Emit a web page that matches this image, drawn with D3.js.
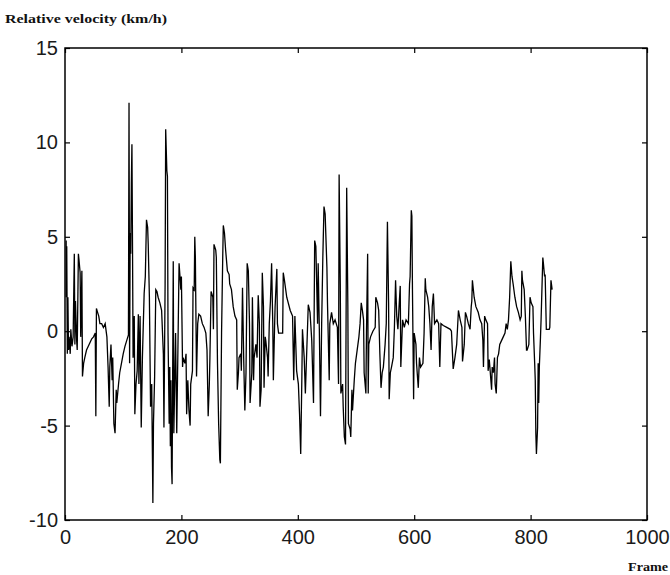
<!DOCTYPE html>
<html>
<head>
<meta charset="utf-8">
<script src="https://cdn.jsdelivr.net/npm/d3@7"></script>
<style>
  body { margin: 0; background: #fff; }
</style>
</head>
<body>
<div id="vis"></div>
<script>
// frame numbers and relative velocity (km/h)
const frames = [
  2, 2, 3, 4, 5, 6, 7, 9, 10, 12, 14, 16, 17, 18, 20, 21, 23, 24, 26, 27, 29, 30, 32, 34, 37, 40, 43, 46, 49, 52,
  53, 54, 56, 58, 60, 63, 66, 69, 72, 74, 76, 77, 79, 81, 82, 84, 86, 88, 89, 92, 94, 97, 100, 103, 106, 109,
  110, 111, 112, 113, 114, 115, 116, 117, 119, 120, 122, 124, 126, 127, 129, 131, 133, 136, 138, 140, 142, 143, 145,
  147, 149, 151, 152, 154, 156, 158, 160, 163, 166, 169, 170, 172, 173, 175, 176, 177, 179, 180, 181, 182, 183, 184,
  186, 187, 189, 190, 192, 194, 196, 198, 199, 200, 202, 203, 206, 208, 209, 211, 213, 215, 216, 219, 220, 222, 223,
  224, 226, 228, 230, 233, 236, 239, 242, 244, 246, 248, 249, 251, 254, 255, 256, 259, 260, 262, 264, 266, 267, 269,
  271, 272, 274, 276, 279, 282, 283, 286, 289, 292, 295, 296, 298, 299, 302, 303, 305, 307, 309, 311, 313, 315, 317,
  318, 321, 322, 324, 325, 328, 330, 332, 334, 335, 337, 339, 341, 342, 344, 345, 348, 349, 351, 353, 355, 357, 358,
  360, 361, 364, 365, 367, 371, 374, 375, 377, 381, 387, 391, 393, 395, 398, 401, 403, 405, 407, 408, 411, 413, 415,
  418, 421, 424, 427, 429, 431, 434, 435, 437, 439, 441, 443, 445, 447, 450, 451, 454, 455, 458, 461, 464, 468, 470,
  471, 473, 474, 477, 478, 480, 482, 484, 486, 487, 490, 491, 493, 494, 497, 499, 502, 505, 507, 509, 511, 513, 514,
  517, 518, 520, 521, 522, 525, 529, 533, 534, 537, 539, 541, 543, 545, 547, 550, 552, 554, 556, 557, 559, 561, 564,
  566, 568, 570, 572, 574, 576, 577, 580, 583, 586, 590, 592, 593, 595, 596, 597, 599, 600, 603, 604, 607, 609, 611,
  615, 617, 619, 620, 623, 625, 627, 629, 631, 633, 635, 639, 642, 644, 646, 650, 656, 662, 664, 667, 670, 673, 676,
  679, 682, 683, 686, 688, 690, 693, 696, 698, 699, 700, 703, 706, 710, 713, 716, 718, 719, 721, 723, 726, 727, 729,
  730, 733, 734, 736, 738, 739, 741, 743, 745, 747, 750, 753, 756, 758, 760, 762, 764, 766, 768, 770, 773, 776, 779,
  782, 784, 785, 786, 789, 791, 793, 794, 797, 799, 801, 804, 805, 807, 808, 809, 810, 812, 813, 814, 815, 817, 818,
  821, 822, 824, 825, 827, 829, 832, 833, 835, 837
];
const velocity = [
  4.8, 1.8, 4.5, -1.2, 1.8, -1.0, -0.3, -1.2, 0.1, -0.8, -0.3, 4.1, -0.7, 1.6, -0.5, -1.0, 4.1, 3.8, 3.1, -0.3, 3.2, -2.4, -1.7, -1.4, -1.0, -0.8, -0.6, -0.4, -0.3, -0.1,
  -4.5, 1.2, 1.0, 0.8, 0.4, 0.4, 0.2, 0.4, -0.3, -1.9, -4.0, -1.9, -0.7, -2.6, -1.4, -4.9, -5.4, -3.1, -3.8, -2.8, -2.2, -1.7, -1.2, -0.8, -0.5, -0.2,
  12.1, -1.7, 5.2, 4.1, 7.8, 9.9, 4.5, -1.4, 0.8, -4.4, -2.8, -2.1, 0.9, -2.8, 0.8, -5.1, -1.4, 2.0, 2.9, 5.9, 5.5, 4.6, 1.8,
  -4.0, -2.8, -9.1, -4.9, -2.4, 2.2, 2.1, 1.8, 1.5, 1.1, -1.2, -5.1, 2.5, 10.7, 8.5, 8.2, -0.1, -4.9, -1.9, -6.1, -2.6, -7.2, -8.1,
  3.7, -5.4, -1.9, -0.1, -5.4, -1.0, 3.6, 2.7, 2.2, 2.9, -1.9, -1.4, -1.7, -1.2, -4.4, -2.6, -4.2, -5.0, -2.8, -2.1, 2.3, 2.2, 5.0,
  3.9, -2.4, 0.4, 0.9, 0.8, 0.4, 0.2, -0.1, -1.0, -4.5, -2.8, -1.4, 2.1, 1.8, 0.1, 4.6, 4.3, 3.9, -1.7, -4.9, -6.8, -7.0, -0.1,
  3.9, 5.6, 5.2, 4.3, 3.2, 3.0, 2.5, 2.2, 1.3, 0.8, 0.6, -3.1, -2.2, -1.4, -1.2, -2.1, 2.3, -1.4, -4.2, -2.2, 3.6, 3.2, 0.4,
  -3.8, -2.2, 1.8, -2.6, -1.4, -0.7, -1.4, 1.9, 0.4, -4.0, -3.1, 3.1, 1.3, -3.0, -0.3, -0.5, -1.4, -2.4, 0.4, 1.6, 3.6, 0.4, -2.6,
  0.1, 1.3, 3.3, 0.4, -0.1, -0.1, -0.1, 3.1, 2.7, 1.8, 1.1, 0.8, -2.6, 0.8, -2.1, -2.8, -4.4, -6.5, -2.4, 0.1, -1.4, -3.3, -1.4,
  1.4, 1.0, -0.5, -3.8, 4.8, 4.5, 0.4, 3.6, 0.1, -4.5, 0.4, 3.9, 6.6, 6.2, 3.4, 1.5, -2.6, 0.4, 1.0, 0.4, 0.6, 0.2, -2.8,
  8.3, 2.5, -3.3, -2.8, -4.0, -5.6, -6.0, 7.6, 1.3, -4.9, -5.2, -5.6, -3.1, -4.2, -2.6, -1.7, -1.0, -0.3, 0.4, 1.5, 1.1, 0.6, -2.2,
  -3.3, -0.1, 4.1, -3.3, -0.7, -0.3, 0.0, 0.2, 1.8, 1.5, 1.1, -1.2, -3.0, -2.2, -1.9, -0.7, 0.4, 5.8, 1.5, -3.6, -2.2, -1.9, -1.4,
  0.2, 2.7, 0.8, 0.1, 1.3, 2.4, -1.9, 0.6, 0.2, 0.6, 0.4, 2.5, 2.9, 6.4, 6.1, 2.2, -3.6, -0.1, -0.7, -1.7, -3.0, -1.4, -1.9,
  -1.7, -0.1, 2.8, 2.2, 1.8, 1.3, 0.4, -1.0, 1.3, 2.0, 0.4, 0.6, 0.4, -1.9, 0.4, 0.3, 0.2, 0.1, 0.0, -2.0, -1.4, -0.7, 1.1,
  0.6, 0.2, -1.6, -0.7, 1.0, 0.8, 0.4, 0.1, 1.3, 1.6, 2.7, 1.8, 1.3, 1.0, 0.6, 0.4, -0.5, -1.9, 0.8, 0.6, 0.4, -2.1, -1.5,
  -1.9, -3.1, -1.9, -2.2, -1.4, -2.8, -3.3, -1.4, -1.2, -0.7, -0.5, -0.3, -0.1, 0.4, 0.1, 0.6, 1.8, 3.7, 2.9, 2.5, 1.8, 1.3, 1.0,
  0.6, 0.8, 3.2, 2.7, 2.2, 0.8, -1.0, -1.0, -0.7, 1.8, 1.5, 1.3, -0.1, -1.7, -2.6, -5.4, -6.5, -5.1, -1.7, -3.8, -1.9, -0.3, 0.6,
  3.9, 3.6, 2.9, 3.0, 0.1, 0.1, 0.1, 0.2, 2.7, 2.2
];

const xTicks = [0, 200, 400, 600, 800, 1000];
const yTicks = [-10, -5, 0, 5, 10, 15];
const yTitle = "Relative velocity (km/h)";
const xTitle = "Frame";

const FRAME_WIDTH = 670;
const FRAME_HEIGHT = 575;
const MARGINS = {left: 65, right: 23, top: 48, bottom: 55};

const svg = d3.select("#vis")
  .append("svg")
    .attr("width", FRAME_WIDTH)
    .attr("height", FRAME_HEIGHT);

const X_SCALE = d3.scaleLinear()
  .domain([0, 1000])
  .range([MARGINS.left, FRAME_WIDTH - MARGINS.right]);

const Y_SCALE = d3.scaleLinear()
  .domain([-10, 15])
  .range([FRAME_HEIGHT - MARGINS.bottom, MARGINS.top]);

const points = frames.map((f, i) => [f, velocity[i]]);

// the trace
svg.append("path")
  .datum(points)
  .attr("fill", "none")
  .attr("stroke", "#000")
  .attr("stroke-width", 1.3)
  .attr("d", d3.line()
    .x(d => X_SCALE(d[0]))
    .y(d => Y_SCALE(d[1])));

// axes, matlab style: ticks pointing inward on all four sides
const tickFont = "'Liberation Sans', Arial, sans-serif";
const plain = d => String(d);   // plain hyphen minus, no thousands comma

svg.append("g")
  .attr("transform", "translate(0," + Y_SCALE(-10) + ")")
  .call(d3.axisBottom(X_SCALE).tickValues(xTicks).tickSize(-5).tickPadding(10).tickFormat(plain));

svg.append("g")
  .attr("transform", "translate(" + X_SCALE(0) + ",0)")
  .call(d3.axisLeft(Y_SCALE).tickValues(yTicks).tickSize(-5).tickPadding(7).tickFormat(plain));

svg.append("g")
  .attr("transform", "translate(0," + Y_SCALE(15) + ")")
  .call(d3.axisTop(X_SCALE).tickValues(xTicks).tickSize(-5).tickFormat(""));

svg.append("g")
  .attr("transform", "translate(" + X_SCALE(1000) + ",0)")
  .call(d3.axisRight(Y_SCALE).tickValues(yTicks).tickSize(-5).tickFormat(""));

svg.selectAll(".domain").remove();
svg.selectAll(".tick line").attr("stroke", "#000").attr("stroke-width", 1.2);
svg.selectAll(".tick text")
  .attr("font-family", tickFont)
  .attr("font-size", 20)
  .attr("fill", "#1a1a1a");

// box
svg.append("rect")
  .attr("x", X_SCALE(0))
  .attr("y", Y_SCALE(15))
  .attr("width", X_SCALE(1000) - X_SCALE(0))
  .attr("height", Y_SCALE(-10) - Y_SCALE(15))
  .attr("fill", "none")
  .attr("stroke", "#000")
  .attr("stroke-width", 1.5);

// titles
svg.append("text")
  .attr("x", 5)
  .attr("y", 23)
  .attr("font-family", "'Liberation Serif', 'DejaVu Serif', serif")
  .attr("font-weight", "bold")
  .attr("font-size", 13)
  .attr("textLength", 162)
  .attr("lengthAdjust", "spacingAndGlyphs")
  .attr("fill", "#111")
  .text(yTitle);

svg.append("text")
  .attr("x", 628)
  .attr("y", 571)
  .attr("font-family", "'Liberation Serif', 'DejaVu Serif', serif")
  .attr("font-weight", "bold")
  .attr("font-size", 13)
  .attr("textLength", 40)
  .attr("lengthAdjust", "spacingAndGlyphs")
  .attr("fill", "#111")
  .text(xTitle);
</script>
</body>
</html>
